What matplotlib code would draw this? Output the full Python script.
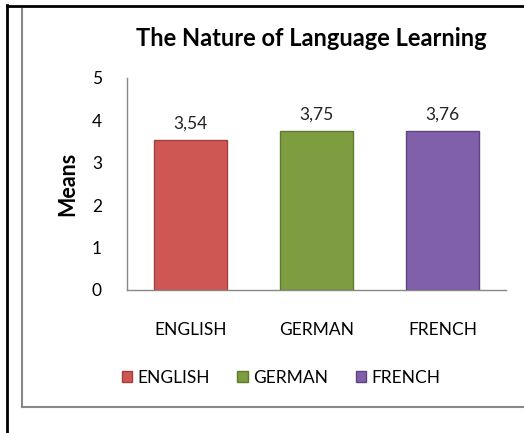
import matplotlib.pyplot as plt
from matplotlib.lines import Line2D
from matplotlib.patches import Patch

languages = ['ENGLISH', 'GERMAN', 'FRENCH']
means = [3.54, 3.75, 3.76]
value_labels = ['3,54', '3,75', '3,76']
colors = ['#CF5753', '#7E9C40', '#8060A8']
edges = ['#A3403C', '#5E7A2C', '#5E4482']

plt.rcParams['font.family'] = ['Lato', 'DejaVu Sans']

W, H = 524, 433
fig = plt.figure(figsize=(W / 100, H / 100), dpi=100)
ax = fig.add_axes([127 / W, 1 - 290 / H, (506 - 127) / W, (290 - 78) / H])

x = range(len(languages))
ax.bar(x, means, width=0.58, color=colors, edgecolor=edges, linewidth=1)
for i, (v, lab) in enumerate(zip(means, value_labels)):
    ax.text(i, v + 0.19, lab, ha='center', va='bottom', fontsize=12.5, color='#222222')

ax.set_xlim(-0.5, 2.5)
ax.set_ylim(0, 5)
ax.set_yticks(range(6))
ax.set_xticks(list(x))
ax.set_xticklabels(languages, fontsize=12.5)
ax.tick_params(axis='y', length=0, pad=18, labelsize=12.5)
ax.tick_params(axis='x', length=0, pad=23)
for s in ['top', 'right']:
    ax.spines[s].set_visible(False)
for s in ['left', 'bottom']:
    ax.spines[s].set_color('#888888')
    ax.spines[s].set_linewidth(1)

ax.set_ylabel('Means', fontsize=15.5, fontweight='bold', labelpad=10)
fig.text(311 / W, 1 - 38 / H, 'The Nature of Language Learning', ha='center', va='center',
         fontsize=17, fontweight='bold')

handles = [Patch(facecolor=c, edgecolor=e) for c, e in zip(colors, edges)]
fig.legend(handles, languages, loc='center', bbox_to_anchor=(281 / W, 1 - 378 / H), ncol=3,
           frameon=False, fontsize=12.5, handlelength=0.6, handleheight=0.6,
           handletextpad=0.3, columnspacing=1.6)

# page / chart borders
fig.add_artist(Line2D([7 / W, 7 / W], [0, 1 - 5 / H], color='black', lw=2, transform=fig.transFigure))
fig.add_artist(Line2D([7 / W, 1], [1 - 6 / H, 1 - 6 / H], color='black', lw=2, transform=fig.transFigure))
fig.add_artist(Line2D([22 / W, 22 / W], [1 - 9 / H, 1 - 407 / H], color='#888888', lw=1.5, transform=fig.transFigure))
fig.add_artist(Line2D([22 / W, 1], [1 - 407 / H, 1 - 407 / H], color='#888888', lw=1.5, transform=fig.transFigure))

fig.savefig('out.png', dpi=100)
